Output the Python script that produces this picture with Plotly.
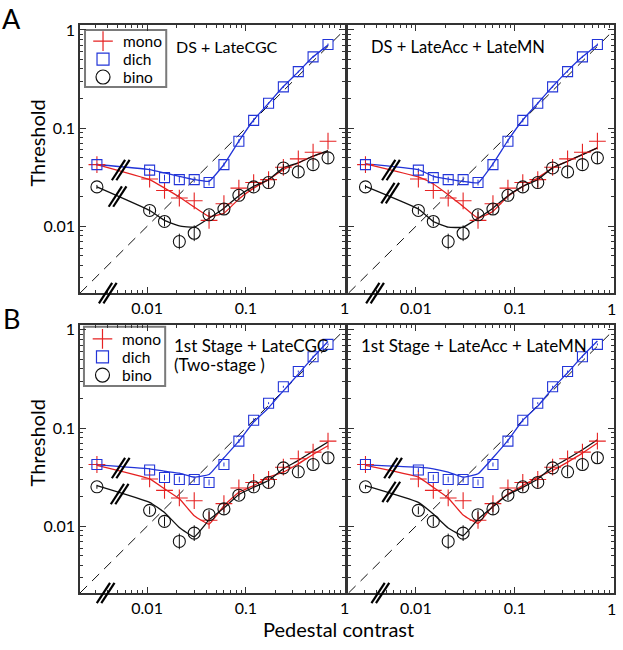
import numpy as np
import plotly.graph_objects as go

# ---------------- data ----------------
PEDESTAL = [0.0031, 0.0106, 0.015, 0.0212, 0.030, 0.0424, 0.060, 0.085, 0.12, 0.17, 0.24, 0.34, 0.48, 0.68]

MONO = [0.0425, 0.0303, 0.0232, 0.0194, 0.0182, 0.0115, 0.017, 0.0245, 0.0279, 0.0299, 0.0399, 0.0486, 0.0568, 0.0736]
DICH = [0.0425, 0.0373, 0.0313, 0.0299, 0.0299, 0.0279, 0.0425, 0.0736, 0.120, 0.179, 0.263, 0.376, 0.532, 0.71]
BINO = [0.0252, 0.0145, 0.0112, 0.0070, 0.0085, 0.0131, 0.015, 0.0207, 0.0252, 0.0279, 0.0393, 0.0358, 0.0425, 0.0498]

# error bars: half-width in log10 units
BINO_ERR_LOG = [0.02, 0.04, 0.05, 0.08, 0.08, 0.05, 0.06, 0.05, 0.05, 0.05, 0.04, 0.05, 0.05, 0.06]
DICH_ERR_LOG = [0.01, 0.02, 0.03, 0.03, 0.03, 0.03, 0.02, 0.02, 0.02, 0.01, 0.01, 0.01, 0.01, 0.01]

# model fits, one set per panel
FIT_A1_MONO = [0.0426, 0.0299, 0.0245, 0.0199, 0.0157, 0.0126, 0.0136, 0.019, 0.0245, 0.0299, 0.0378, 0.0443, 0.0518, 0.0582]
FIT_A1_DICH = [0.0426, 0.0378, 0.035, 0.0323, 0.0299, 0.0287, 0.0426, 0.0736, 0.121, 0.179, 0.265, 0.374, 0.532, 0.70]
FIT_A1_BINO = [0.0252, 0.0145, 0.0115, 0.0101, 0.0098, 0.0121, 0.0153, 0.0205, 0.0255, 0.0299, 0.0394, 0.0443, 0.0518, 0.0590]

FIT_A2_MONO = [0.0433, 0.0318, 0.0270, 0.021, 0.0159, 0.0121, 0.0142, 0.0202, 0.0255, 0.0311, 0.0394, 0.046, 0.0538, 0.063]
FIT_A2_DICH = [0.0433, 0.0378, 0.0323, 0.0303, 0.0287, 0.0277, 0.0433, 0.0748, 0.121, 0.179, 0.265, 0.383, 0.532, 0.706]
FIT_A2_BINO = [0.0255, 0.015, 0.0112, 0.0098, 0.0098, 0.0121, 0.0153, 0.0205, 0.0255, 0.0299, 0.0394, 0.046, 0.0538, 0.063]

FIT_B1_MONO = [0.0416, 0.0303, 0.024, 0.019, 0.0128, 0.0105, 0.0162, 0.0222, 0.0259, 0.0316, 0.0355, 0.0432, 0.0538, 0.066]
FIT_B1_DICH = [0.0422, 0.0384, 0.0363, 0.0347, 0.0316, 0.0336, 0.0498, 0.0736, 0.115, 0.161, 0.239, 0.354, 0.525, 0.76]
FIT_B1_BINO = [0.0259, 0.0175, 0.0138, 0.0097, 0.0078, 0.0116, 0.0153, 0.021, 0.0249, 0.0292, 0.0384, 0.0468, 0.0582, 0.072]

FIT_B2_MONO = [0.0416, 0.0316, 0.0249, 0.0194, 0.013, 0.0107, 0.0162, 0.0213, 0.0259, 0.0316, 0.0369, 0.045, 0.0555, 0.0703]
FIT_B2_DICH = [0.0422, 0.0399, 0.0384, 0.0355, 0.0316, 0.0342, 0.0498, 0.0748, 0.12, 0.167, 0.253, 0.365, 0.54, 0.77]
FIT_B2_BINO = [0.0259, 0.0175, 0.0133, 0.0096, 0.008, 0.0118, 0.0158, 0.021, 0.0249, 0.0303, 0.04, 0.0486, 0.0601, 0.076]

PANEL_TITLES = ["DS + LateCGC", "DS + LateAcc + LateMN",
                "1st Stage + LateCGC", "1st Stage + LateAcc + LateMN"]
SUBTITLE_B1 = "(Two-stage )"
SERIES_NAMES = ["mono", "dich", "bino"]
TICK_VALS = [0.01, 0.1, 1]
TICK_TEXT = ["0.01", "0.1", "1"]
MINOR_VALS = [0.003, 0.004, 0.005, 0.006, 0.007, 0.008, 0.009,
              0.02, 0.03, 0.04, 0.05, 0.06, 0.07, 0.08, 0.09,
              0.2, 0.3, 0.4, 0.5, 0.6, 0.7, 0.8, 0.9]

# ---------------- styling ----------------
FONT = "Lato"
RED = "#e62222"
BLUE = "#2234d8"
BLACK = "#111111"
FRAME = "#333333"
LOG_MIN_X, LOG_MAX_X = -2.68, 0.0
LOG_MIN_Y, LOG_MAX_Y = -2.68, 0.05

SYMBOLS = ["cross-thin-open", "square-open", "circle-open"]
SYM_SIZES = [12, 10, 12]
SYM_COLORS = [RED, BLUE, BLACK]


def err_arrays(vals, errlog):
    v = np.array(vals)
    e = np.array(errlog)
    return (v * (10 ** e - 1)).tolist(), (v * (1 - 10 ** (-e))).tolist()


bino_up, bino_dn = err_arrays(BINO, BINO_ERR_LOG)
dich_up, dich_dn = err_arrays(DICH, DICH_ERR_LOG)

fig = go.Figure()

panels = [
    ("x", "y", FIT_A1_MONO, FIT_A1_DICH, FIT_A1_BINO),
    ("x2", "y2", FIT_A2_MONO, FIT_A2_DICH, FIT_A2_BINO),
    ("x3", "y3", FIT_B1_MONO, FIT_B1_DICH, FIT_B1_BINO),
    ("x4", "y4", FIT_B2_MONO, FIT_B2_DICH, FIT_B2_BINO),
]

diag = [10 ** LOG_MIN_X, 1.0]

for xa, ya, fm, fd, fb in panels:
    fig.add_trace(go.Scatter(x=diag, y=diag, mode="lines", xaxis=xa, yaxis=ya,
                             line=dict(color=BLACK, width=1, dash="10px,7px"),
                             showlegend=False, hoverinfo="skip"))
    for fit, col in ((fd, BLUE), (fm, RED), (fb, BLACK)):
        fig.add_trace(go.Scatter(x=PEDESTAL, y=fit, mode="lines", xaxis=xa, yaxis=ya,
                                 line=dict(color=col, width=1.3, shape="spline", smoothing=0.35),
                                 showlegend=False, hoverinfo="skip"))
    fig.add_trace(go.Scatter(x=PEDESTAL, y=MONO, mode="markers", name=SERIES_NAMES[0],
                             xaxis=xa, yaxis=ya, showlegend=False,
                             marker=dict(symbol=SYMBOLS[0], size=SYM_SIZES[0],
                                         line=dict(color=RED, width=1.1), color=RED)))
    fig.add_trace(go.Scatter(x=PEDESTAL, y=DICH, mode="markers", name=SERIES_NAMES[1],
                             xaxis=xa, yaxis=ya, showlegend=False,
                             error_y=dict(type="data", symmetric=False, array=dich_up,
                                          arrayminus=dich_dn, color=BLUE, thickness=1, width=0),
                             marker=dict(symbol=SYMBOLS[1], size=SYM_SIZES[1],
                                         line=dict(color=BLUE, width=1.1), color=BLUE)))
    fig.add_trace(go.Scatter(x=PEDESTAL, y=BINO, mode="markers", name=SERIES_NAMES[2],
                             xaxis=xa, yaxis=ya, showlegend=False,
                             error_y=dict(type="data", symmetric=False, array=bino_up,
                                          arrayminus=bino_dn, color=BLACK, thickness=1, width=0),
                             marker=dict(symbol=SYMBOLS[2], size=SYM_SIZES[2],
                                         line=dict(color=BLACK, width=1.1), color=BLACK)))

# ---------------- axes ----------------
XD_L, XD_R = [0.0, 0.4954], [0.5028, 1.0]
YD_T, YD_B = [0.528, 1.0], [0.0, 0.472]


def xaxis(domain, anchor, ticktext=TICK_TEXT):
    return dict(type="log", range=[LOG_MIN_X, LOG_MAX_X], domain=domain, anchor=anchor,
                showline=True, linecolor=FRAME, linewidth=1.5, mirror="ticks",
                ticks="inside", ticklen=6, tickwidth=1, tickcolor=FRAME,
                tickmode="array", tickvals=TICK_VALS, ticktext=ticktext,
                ticklabeloverflow="allow",
                minor=dict(ticks="inside", ticklen=3, tickwidth=1, tickcolor=FRAME,
                           tickvals=MINOR_VALS, showgrid=False),
                showgrid=False, zeroline=False,
                tickfont=dict(family=FONT, size=16, color="black"))


def yaxis(domain, anchor, labels):
    d = xaxis(domain, anchor)
    d["range"] = [LOG_MIN_Y, LOG_MAX_Y]
    d["showticklabels"] = labels
    return d


# hidden overlay axes used only to place the legend keys
def key_axis(domain, anchor, over):
    return dict(domain=domain, anchor=anchor, range=[0, 1], visible=False,
                overlaying=over, showgrid=False, zeroline=False, fixedrange=True)


# right-hand panels: the "1" end label is placed as an annotation so it stays on the page
RIGHT_TICK_TEXT = TICK_TEXT[:-1] + [""]

fig.update_layout(
    xaxis=xaxis(XD_L, "y"), yaxis=yaxis(YD_T, "x", True),
    xaxis2=xaxis(XD_R, "y2", RIGHT_TICK_TEXT), yaxis2=yaxis(YD_T, "x2", False),
    xaxis3=xaxis(XD_L, "y3"), yaxis3=yaxis(YD_B, "x3", True),
    xaxis4=xaxis(XD_R, "y4", RIGHT_TICK_TEXT), yaxis4=yaxis(YD_B, "x4", False),
    xaxis5=key_axis(XD_L, "y5", "x"), yaxis5=key_axis(YD_T, "x5", "y"),
    xaxis6=key_axis(XD_L, "y6", "x3"), yaxis6=key_axis(YD_B, "x6", "y3"),
)

# ---------------- legend boxes (drawn per panel) ----------------
shapes = []
ann = []
LEG_FONT = 15.5
legend_specs = [
    # key axes, panel axes, box (x0,x1,y0,y1 in domain), key x, text x, row ys
    ("x5", "y5", "x", "y", (0.019, 0.326, 0.769, 0.981), 0.087, 0.155, [0.940, 0.873, 0.806]),
    ("x6", "y6", "x3", "y3", (0.015, 0.322, 0.772, 0.993), 0.085, 0.152, [0.948, 0.881, 0.813]),
]
for kx, ky, px, py, box, keyx, textx, rows in legend_specs:
    shapes.append(dict(type="rect", xref=f"{px} domain", yref=f"{py} domain",
                       x0=box[0], x1=box[1], y0=box[2], y1=box[3],
                       line=dict(color="#7a7a7a", width=2), fillcolor="white", layer="below"))
    for name, sym, sz, col, ry in zip(SERIES_NAMES, SYMBOLS, SYM_SIZES, SYM_COLORS, rows):
        fig.add_trace(go.Scatter(x=[keyx], y=[ry], mode="markers", xaxis=kx, yaxis=ky,
                                 name=name, showlegend=False, hoverinfo="skip",
                                 marker=dict(symbol=sym, size=sz + 2, color=col,
                                             line=dict(color=col, width=1.2))))
        ann.append(dict(text=name, xref=f"{px} domain", yref=f"{py} domain", x=textx, y=ry,
                        xanchor="left", yanchor="middle", showarrow=False,
                        font=dict(family=FONT, size=LEG_FONT, color="black")))

# ---------------- axis-break marks ----------------
breaks = [
    ("x", "y", [(0.154, 0.459), (0.142, 0.360), (0.105, 0.0)]),
    ("x2", "y2", [(0.160, 0.459), (0.157, 0.373), (0.100, 0.0)]),
    ("x3", "y3", [(0.154, 0.466), (0.150, 0.369), (0.097, 0.0)]),
    ("x4", "y4", [(0.168, 0.466), (0.161, 0.377), (0.120, 0.0)]),
]
HDX, HDY, SEP = 0.025, 0.038, 0.0085
for xa, ya, centers in breaks:
    for cx, cy in centers:
        for off in (-SEP, SEP):
            shapes.append(dict(type="line", xref=f"{xa} domain", yref=f"{ya} domain",
                               x0=cx + off - HDX, y0=cy - HDY, x1=cx + off + HDX, y1=cy + HDY,
                               line=dict(color="black", width=2.2), layer="above"))
fig.update_layout(shapes=shapes)

# ---------------- text ----------------
title_pos = [("x", "y", 0.356, 0.918, 16), ("x2", "y2", 0.078, 0.918, 16.5),
             ("x3", "y3", 0.348, 0.925, 17), ("x4", "y4", 0.041, 0.925, 17)]
for (xa, ya, tx, ty, fs), t in zip(title_pos, PANEL_TITLES):
    ann.append(dict(text=t, xref=f"{xa} domain", yref=f"{ya} domain", x=tx, y=ty,
                    xanchor="left", yanchor="middle", showarrow=False,
                    font=dict(family=FONT, size=fs, color="black")))
ann.append(dict(text=SUBTITLE_B1, xref="x3 domain", yref="y3 domain", x=0.348, y=0.851,
                xanchor="left", yanchor="middle", showarrow=False,
                font=dict(family=FONT, size=17, color="black")))
for xa, ya in (("x2", "y2"), ("x4", "y4")):
    ann.append(dict(text=TICK_TEXT[-1], xref=f"{xa} domain", yref=f"{ya} domain",
                    x=0.991, y=-0.057, xanchor="center", yanchor="middle", showarrow=False,
                    font=dict(family=FONT, size=16, color="black")))
for ty in (0.792, 0.264):
    ann.append(dict(text="Threshold", xref="paper", yref="paper", x=-0.0798, y=ty,
                    textangle=-90, showarrow=False, xanchor="center", yanchor="middle",
                    font=dict(family=FONT, size=20, color="black")))
ann.append(dict(text="Pedestal contrast", xref="paper", yref="paper", x=0.484, y=-0.0634,
                showarrow=False, xanchor="center", yanchor="middle",
                font=dict(family=FONT, size=20, color="black")))
for lab, ty in (("A", 1.0106), ("B", 0.484)):
    ann.append(dict(text=lab, xref="paper", yref="paper", x=-0.128, y=ty,
                    showarrow=False, xanchor="center", yanchor="middle",
                    font=dict(family=FONT, size=27, color="black")))
fig.update_layout(annotations=ann)

fig.update_layout(width=623, height=650, margin=dict(l=80, r=4, t=25, b=57),
                  plot_bgcolor="rgba(0,0,0,0)", paper_bgcolor="white", showlegend=False,
                  font=dict(family=FONT, color="black"))

fig.write_html("out.html", config={"displayModeBar": False},
               post_script="document.body.style.margin='0px';")
